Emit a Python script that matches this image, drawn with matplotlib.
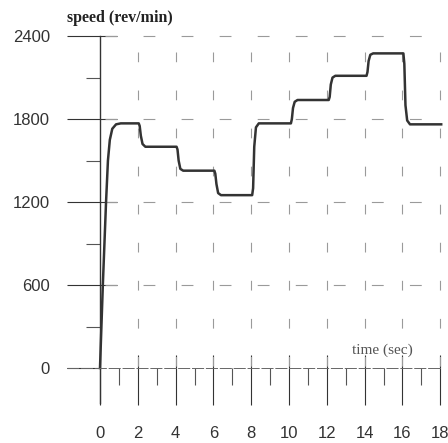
import numpy as np
import matplotlib
matplotlib.use('Agg')
import matplotlib.pyplot as plt
from matplotlib.ticker import FixedLocator

plt.rcParams['font.family'] = ['Liberation Sans', 'DejaVu Sans']
plt.rcParams['lines.scale_dashes'] = False

# speed response to the stepped set point
time = [0.0, 0.15, 0.32, 0.42, 0.52, 0.65, 0.85, 1.1,
        2.05, 2.1, 2.16, 2.25, 2.4,
        4.05, 4.1, 4.16, 4.25, 4.4,
        6.05, 6.1, 6.16, 6.25, 6.4,
        8.05, 8.1, 8.16, 8.25, 8.4,
        10.1, 10.15, 10.21, 10.3, 10.45,
        12.1, 12.15, 12.21, 12.3, 12.45,
        14.1, 14.15, 14.21, 14.3, 14.45,
        16.05, 16.1, 16.16, 16.25, 16.4,
        18.05]
speed = [0, 600, 1200, 1500, 1650, 1730, 1762, 1769,
         1769, 1750, 1680, 1620, 1600,
         1600, 1580, 1500, 1440, 1427,
         1427, 1405, 1330, 1265, 1250,
         1250, 1300, 1600, 1740, 1769,
         1769, 1800, 1880, 1925, 1938,
         1938, 1960, 2050, 2100, 2113,
         2113, 2140, 2220, 2265, 2275,
         2275, 2200, 1900, 1790, 1762,
         1762]

x_major = [0, 2, 4, 6, 8, 10, 12, 14, 16, 18]
x_minor = [1, 3, 5, 7, 9, 11, 13, 15, 17]
y_major = [0, 600, 1200, 1800, 2400]
y_minor = [300, 900, 1500, 2100]

ink = '#333333'
grid_col = '#9a9a9a'
v_dash = (0, (7, 20.4))
h_dash = (0, (8.5, 18.9))

fig = plt.figure(figsize=(4.48, 4.43), dpi=100)
ax = fig.add_axes([0, 0, 1, 1])
ax.set_xlim(-5.29, 18.41)
ax.set_ylim(-542, 2661)
ax.patch.set_visible(False)

# spines cross at the origin
ax.spines['top'].set_visible(False)
ax.spines['right'].set_visible(False)
ax.spines['left'].set_position(('data', 0))
ax.spines['left'].set_bounds(-253, 2400)
ax.spines['left'].set_linewidth(1.0)
ax.spines['left'].set_color(ink)
ax.spines['bottom'].set_position(('data', 0))
ax.spines['bottom'].set_bounds(-1.75, 18.05)
ax.spines['bottom'].set_linewidth(0.7)
ax.spines['bottom'].set_color('#666666')
ax.spines['bottom'].set_linestyle((0, (8, 2)))

ax.xaxis.set_major_locator(FixedLocator(x_major))
ax.xaxis.set_minor_locator(FixedLocator(x_minor))
ax.yaxis.set_major_locator(FixedLocator(y_major))
ax.yaxis.set_minor_locator(FixedLocator(y_minor))
ax.set_xticklabels([str(v) for v in x_major])
ax.set_yticklabels([str(v) for v in y_major])

ax.tick_params(axis='x', which='major', direction='out', length=26.5, width=0.8,
               color=ink, pad=15, labelsize=12, labelcolor='#333333')
ax.tick_params(axis='x', which='minor', direction='out', length=12, width=0.8, color='#555555')
ax.tick_params(axis='y', which='major', direction='out', length=24, width=0.8,
               color=ink, pad=12, labelsize=12, labelcolor='#333333')
ax.tick_params(axis='y', which='minor', direction='out', length=10, width=0.8, color='#555555')

# stubs of the major ticks on the inner side
ax.vlines(x_major[1:], 0, 94, color=ink, lw=0.8)
ax.hlines(y_major[1:], 0, 0.9, color=ink, lw=0.8)

# broken grid
ax.vlines(x_major[1:], 2285, 0, color=grid_col, lw=0.8, linestyles=[v_dash])
ax.hlines(y_major[1:], 0.25, 17.3, color=grid_col, lw=0.8, linestyles=[h_dash])

ax.plot(time, speed, color=ink, lw=1.8, solid_joinstyle='round')

ax.text(-1.75, 2531, 'speed (rev/min)', family='Liberation Serif', fontweight='bold',
        fontsize=11.5, color='#222222', ha='left', va='center')
ax.text(13.33, 130, 'time (sec)', family='Liberation Serif', fontsize=11,
        color='#555555', ha='left', va='center')

fig.savefig('out.png', dpi=100)
